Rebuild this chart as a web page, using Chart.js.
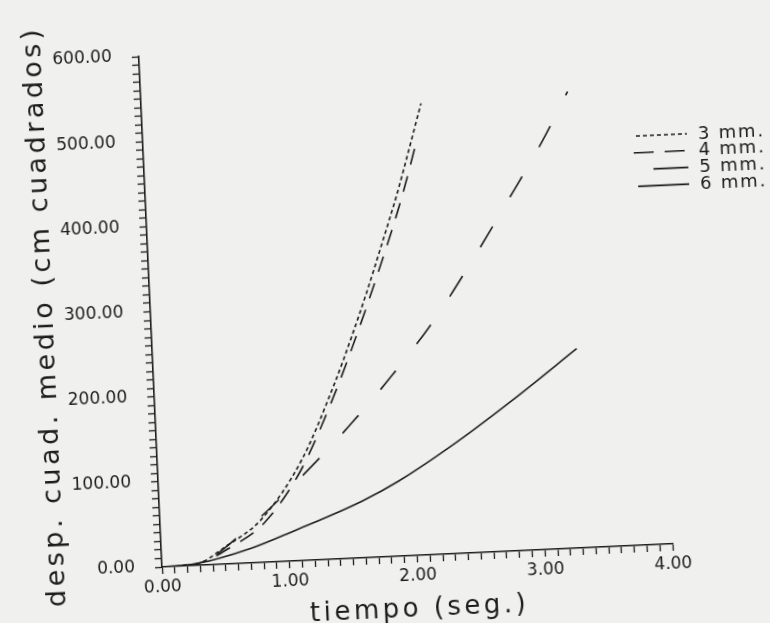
<!DOCTYPE html>
<html>
<head>
<meta charset="utf-8">
<script src="https://cdn.jsdelivr.net/npm/chart.js@4.4.1/dist/chart.umd.min.js"></script>
<style>
  html, body { margin: 0; padding: 0; width: 770px; height: 623px; overflow: hidden; background: #f0f0ee; }
  /* the scanned page is slightly turned, so the canvas is turned round the origin */
  #chart { position: absolute; left: 0; top: 0; transform-origin: 162px 567px; transform: rotate(-2.6deg); }
</style>
</head>
<body>
<canvas id="chart" width="800" height="660"></canvas>
<script>
// data
const seriesLabels = ['3 mm.', '4 mm.', '5 mm.', '6 mm.'];

const time3mm = [0, 0.27, 0.52, 0.79, 1.13, 1.42, 1.57, 1.70, 1.85, 1.97, 2.19];
const disp3mm = [0, 2, 22, 50, 118, 208, 262, 312, 374, 425, 530];

const time4mm = [0, 0.27, 0.71, 1.12, 1.51, 1.87, 2.22, 2.53, 2.82, 3.12, 3.34];
const disp4mm = [0, 2, 44, 98, 155, 213, 276, 342, 408, 478, 536];

const time5mm = [0, 0.27, 0.55, 0.82, 1.12, 1.40, 1.60, 1.80, 2.00, 2.15];
const disp5mm = [0, 2, 20, 47, 106, 190, 260, 336, 418, 490];

const time6mm = [0, 0.27, 0.70, 1.04, 1.58, 1.88, 2.30, 2.79, 3.32];
const disp6mm = [0, 2, 17, 35, 66, 88, 126, 176, 234];

const xTitle = 'tiempo (seg.)';
const yTitle = 'desp. cuad. medio (cm cuadrados)';

const ink = '#1c1c1c';
const font = '"DejaVu Sans", sans-serif';

const toPoints = (xs, ys) => xs.map((x, i) => ({ x: x, y: ys[i] }));

// legend drawn at the right, beside the curves
const sideLegend = {
  id: 'sideLegend',
  afterDraw(chart) {
    const ctx = chart.ctx;
    const starts = [655, 652, 671, 655];
    const dashes = [[4, 3], [20, 11], [], []];
    ctx.save();
    ctx.font = '18px ' + font;
    ctx.letterSpacing = '1.8px';
    ctx.textBaseline = 'middle';
    ctx.fillStyle = ink;
    chart.data.datasets.forEach((ds, i) => {
      const y = 158 + i * 16.8;
      ctx.strokeStyle = ds.borderColor;
      ctx.lineWidth = ds.borderWidth;
      ctx.setLineDash(dashes[i]);
      ctx.beginPath();
      ctx.moveTo(starts[i], y);
      ctx.lineTo(706, y);
      ctx.stroke();
      ctx.fillText(ds.label, 717, y + 1);
    });
    ctx.restore();
  }
};

// the typewriter-like titles on the scan are widely spaced
const spacedTitles = {
  id: 'spacedTitles',
  beforeDraw(chart) {
    Object.values(chart.scales).forEach(scale => {
      if (scale._spaced) return;
      const base = scale.drawTitle;
      scale.drawTitle = function () {
        this.ctx.save();
        this.ctx.letterSpacing = '3.5px';
        base.call(this);
        this.ctx.restore();
      };
      scale._spaced = true;
    });
  }
};

const onlyWhole = (v, step) => {
  const r = Math.round(v / step) * step;
  return Math.abs(v - r) < 1e-6 ? r.toFixed(2) : '';
};

new Chart(document.getElementById('chart'), {
  type: 'line',
  data: {
    datasets: [
      { label: seriesLabels[0], data: toPoints(time3mm, disp3mm), borderDash: [4, 3] },
      { label: seriesLabels[1], data: toPoints(time4mm, disp4mm), borderDash: [24, 34] },
      { label: seriesLabels[2], data: toPoints(time5mm, disp5mm), borderDash: [16, 12] },
      { label: seriesLabels[3], data: toPoints(time6mm, disp6mm), borderDash: [] }
    ].map(ds => Object.assign(ds, {
      borderColor: ink,
      borderWidth: 1.6,
      pointRadius: 0,
      fill: false,
      cubicInterpolationMode: 'monotone'
    }))
  },
  options: {
    responsive: false,
    animation: false,
    devicePixelRatio: 1,
    layout: { padding: { left: 41, top: 56, right: 127, bottom: 23 } },
    plugins: {
      legend: { display: false },
      tooltip: { enabled: false }
    },
    scales: {
      x: {
        type: 'linear',
        min: 0,
        max: 4,
        afterFit: scale => { scale.height = 70; },
        border: { display: true, color: ink, width: 1.6 },
        grid: { display: true, drawOnChartArea: false, drawTicks: true, tickLength: 7, tickColor: ink, tickWidth: 1.3 },
        ticks: {
          stepSize: 0.1,
          autoSkip: false,
          maxRotation: 0,
          padding: 3,
          color: ink,
          font: { family: font, size: 17 },
          callback: v => onlyWhole(v, 1)
        },
        title: { display: true, text: xTitle, color: ink, font: { family: font, size: 26 }, padding: { top: 5, bottom: 0 } }
      },
      y: {
        min: 0,
        max: 600,
        afterFit: scale => { scale.width = 121; },
        border: { display: true, color: ink, width: 1.6 },
        grid: { display: true, drawOnChartArea: false, drawTicks: true, tickLength: 7, tickColor: ink, tickWidth: 1.3 },
        ticks: {
          stepSize: 10,
          autoSkip: false,
          padding: 20,
          color: ink,
          font: { family: font, size: 17 },
          callback: v => onlyWhole(v, 100)
        },
        title: { display: true, text: yTitle, color: ink, font: { family: font, size: 27 }, padding: { top: 0, bottom: 3 } }
      }
    }
  },
  plugins: [spacedTitles, sideLegend]
});
</script>
</body>
</html>
